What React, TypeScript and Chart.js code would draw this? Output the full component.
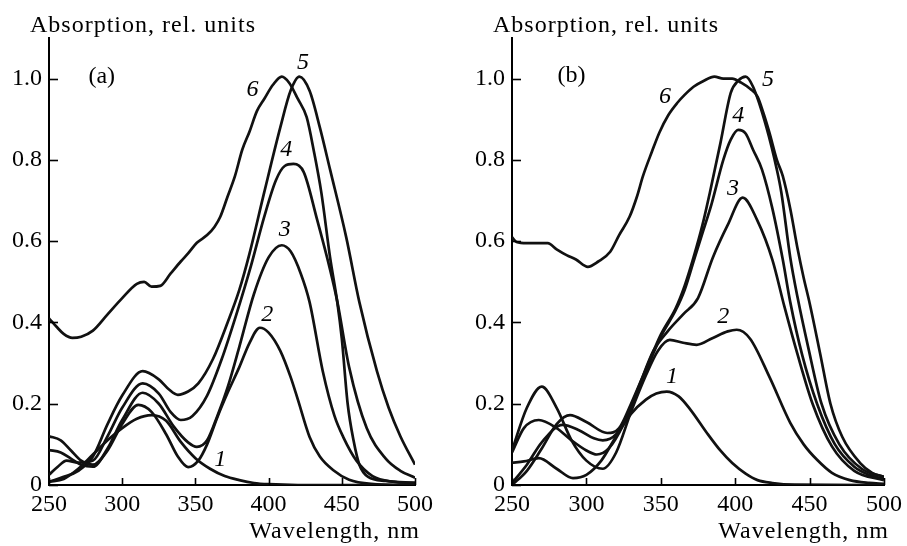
import React, { useEffect, useRef } from "react";
import { Chart, registerables } from "chart.js";
Chart.register(...registerables);

const FONT = "'Liberation Serif', 'Times New Roman', serif";

const xTicks = [250, 300, 350, 400, 450, 500];
const yTicks = [0, 0.2, 0.4, 0.6, 0.8, 1.0];
const yTitle = "Absorption, rel. units";
const xTitle = "Wavelength, nm";

// ---------- Panel (a) ----------
const a1Nm = [250, 260, 270, 280, 290, 300, 310, 320, 330, 340, 350, 360, 370, 380, 390, 400, 420, 500];
const a1Abs = [0.008, 0.015, 0.04, 0.075, 0.11, 0.14, 0.163, 0.172, 0.158, 0.106, 0.066, 0.04, 0.022, 0.012, 0.005, 0.002, 0, 0];

const a2Nm = [250, 258, 265, 272, 280, 290, 300, 311, 320, 330, 338, 345, 352, 358, 365, 372, 380, 387, 394, 400, 408, 415, 420, 428, 435, 444, 455, 470, 500];
const a2Abs = [0.12, 0.11, 0.085, 0.06, 0.05, 0.085, 0.15, 0.197, 0.18, 0.125, 0.07, 0.044, 0.06, 0.1, 0.167, 0.227, 0.29, 0.35, 0.387, 0.375, 0.33, 0.266, 0.21, 0.118, 0.07, 0.037, 0.013, 0.003, 0];

const a3Nm = [250, 258, 265, 272, 280, 290, 300, 314, 325, 335, 345, 351, 358, 365, 372, 380, 390, 400, 409, 415, 422, 428, 437, 445, 451, 460, 471, 485, 500];
const a3Abs = [0.086, 0.08, 0.065, 0.05, 0.045, 0.09, 0.16, 0.227, 0.2, 0.145, 0.105, 0.094, 0.11, 0.17, 0.24, 0.34, 0.47, 0.56, 0.59, 0.575, 0.52, 0.45, 0.28, 0.17, 0.118, 0.06, 0.022, 0.008, 0.005];

const a4Nm = [250, 256, 262, 270, 280, 290, 300, 314, 325, 333, 340, 348, 358, 368, 378, 388, 397, 405, 411, 417, 424, 433, 442, 447, 455, 467, 480, 490, 500];
const a4Abs = [0.025, 0.045, 0.06, 0.055, 0.06, 0.12, 0.19, 0.25, 0.225, 0.18, 0.16, 0.17, 0.22, 0.31, 0.42, 0.54, 0.66, 0.75, 0.785, 0.79, 0.77, 0.655, 0.53, 0.45, 0.29, 0.14, 0.065, 0.035, 0.018];

const a5Nm = [250, 260, 270, 280, 290, 300, 314, 325, 332, 338, 345, 352, 362, 372, 380, 387, 397, 408, 415, 421, 428, 435, 442, 453, 462, 474, 482, 490, 500];
const a5Abs = [0.008, 0.02, 0.035, 0.07, 0.15, 0.22, 0.28, 0.26, 0.235, 0.222, 0.23, 0.25, 0.31, 0.4, 0.48, 0.57, 0.72, 0.88, 0.97, 1.005, 0.97, 0.88, 0.776, 0.61, 0.45, 0.28, 0.19, 0.12, 0.05];

const a6Nm = [250, 255, 260, 266, 272, 280, 290, 300, 310, 315, 320, 326, 333, 340, 345, 351, 358, 363, 367, 372, 377, 382, 387, 392, 397, 403, 409, 414, 420, 426, 431, 436, 442, 447, 450, 454, 458, 462, 468, 480, 500];
const a6Abs = [0.41, 0.39, 0.372, 0.362, 0.365, 0.38, 0.42, 0.46, 0.495, 0.5, 0.488, 0.49, 0.52, 0.55, 0.57, 0.596, 0.615, 0.635, 0.66, 0.71, 0.76, 0.825, 0.87, 0.92, 0.95, 0.985, 1.005, 0.99, 0.95, 0.905, 0.82, 0.72, 0.56, 0.448, 0.36, 0.2, 0.11, 0.05, 0.02, 0.01, 0.005];

// ---------- Panel (b) ----------
const b1Nm = [250, 258, 268, 280, 291, 300, 310, 320, 330, 340, 347, 354, 362, 370, 381, 390, 398, 407, 415, 425, 440, 500];
const b1Abs = [0.055, 0.058, 0.066, 0.04, 0.017, 0.025, 0.06, 0.12, 0.175, 0.21, 0.225, 0.23, 0.218, 0.185, 0.128, 0.085, 0.054, 0.028, 0.012, 0.005, 0.001, 0];

const b2Nm = [250, 260, 270, 280, 290, 300, 311, 320, 330, 340, 348, 356, 365, 374, 385, 395, 401, 410, 423, 437, 446, 455, 465, 477, 490, 500];
const b2Abs = [0.085, 0.19, 0.242, 0.19, 0.11, 0.06, 0.04, 0.08, 0.18, 0.27, 0.33, 0.357, 0.35, 0.345, 0.362, 0.378, 0.382, 0.36, 0.266, 0.153, 0.1, 0.062, 0.03, 0.012, 0.005, 0.003];

const b3Nm = [250, 258, 268, 280, 290, 300, 307, 315, 325, 335, 345, 355, 365, 375, 385, 395, 405, 415, 425, 433, 442, 452, 465, 480, 500];
const b3Abs = [0.08, 0.14, 0.16, 0.14, 0.11, 0.085, 0.075, 0.09, 0.15, 0.24, 0.33, 0.38, 0.42, 0.46, 0.56, 0.64, 0.707, 0.65, 0.554, 0.44, 0.32, 0.2, 0.095, 0.035, 0.012];

const b4Nm = [250, 260, 270, 284, 295, 305, 311, 320, 330, 340, 350, 360, 366, 372, 378, 384, 392, 397, 402, 407, 412, 418, 425, 432, 437, 445, 455, 467, 480, 490, 500];
const b4Abs = [0.005, 0.05, 0.105, 0.148, 0.135, 0.115, 0.11, 0.125, 0.19, 0.28, 0.365, 0.43, 0.48, 0.55, 0.62, 0.69, 0.8, 0.85, 0.874, 0.865, 0.825, 0.776, 0.68, 0.554, 0.45, 0.32, 0.2, 0.1, 0.045, 0.025, 0.015];

const b5Nm = [250, 260, 270, 280, 289, 300, 314, 322, 330, 340, 350, 360, 366, 372, 378, 383, 390, 397, 402, 407, 412, 421, 428, 431, 437, 442, 449, 458, 470, 485, 500];
const b5Abs = [0.0, 0.035, 0.09, 0.15, 0.172, 0.155, 0.128, 0.14, 0.2, 0.285, 0.37, 0.435, 0.49, 0.56, 0.64, 0.72, 0.84, 0.965, 0.995, 1.005, 0.98, 0.88, 0.776, 0.72, 0.56, 0.46, 0.34, 0.2, 0.1, 0.04, 0.02];

const b6Nm = [250, 253, 260, 270, 274, 280, 287, 293, 301, 308, 316, 322, 329, 334, 338, 344, 349, 355, 361, 366, 372, 379, 386, 392, 398, 404, 410, 415, 419, 423, 428, 432, 437, 442, 446, 450, 457, 464, 472, 484, 492, 500];
const b6Abs = [0.61, 0.598, 0.595, 0.595, 0.595, 0.58, 0.565, 0.555, 0.537, 0.55, 0.574, 0.615, 0.66, 0.71, 0.76, 0.82, 0.867, 0.91, 0.94, 0.96, 0.98, 0.995, 1.005, 1.0, 1.0, 0.99, 0.975, 0.956, 0.915, 0.867, 0.8, 0.76, 0.68, 0.58, 0.51, 0.448, 0.325, 0.2, 0.118, 0.054, 0.03, 0.02];

// curve labels (anchor in data units)
const aLabelText = ["1", "2", "3", "4", "5", "6"];
const aLabelNm = [367, 399, 411, 412, 423.5, 389];
const aLabelAbs = [0.062, 0.419, 0.628, 0.825, 1.039, 0.973];
const bLabelText = ["1", "2", "3", "4", "5", "6"];
const bLabelNm = [357.5, 392, 398.5, 402, 422, 352.8];
const bLabelAbs = [0.267, 0.415, 0.73, 0.91, 0.998, 0.956];

const aTag = { text: "(a)", nm: 286, abs: 1.005 };
const bTag = { text: "(b)", nm: 290, abs: 1.007 };

const toPts = (nm: number[], ab: number[]) => nm.map((x, i) => ({ x, y: ab[i] }));

type PanelDef = {
  curves: [number[], number[]][];
  labelText: string[];
  labelNm: number[];
  labelAbs: number[];
  tag: { text: string; nm: number; abs: number };
  yAxisWidth: number;
  padRight: number;
  width: number;
};

const panelA: PanelDef = {
  curves: [[a1Nm, a1Abs], [a2Nm, a2Abs], [a3Nm, a3Abs], [a4Nm, a4Abs], [a5Nm, a5Abs], [a6Nm, a6Abs]],
  labelText: aLabelText, labelNm: aLabelNm, labelAbs: aLabelAbs, tag: aTag,
  yAxisWidth: 49, padRight: 38, width: 453,
};
const panelB: PanelDef = {
  curves: [[b1Nm, b1Abs], [b2Nm, b2Abs], [b3Nm, b3Abs], [b4Nm, b4Abs], [b5Nm, b5Abs], [b6Nm, b6Abs]],
  labelText: bLabelText, labelNm: bLabelNm, labelAbs: bLabelAbs, tag: bTag,
  yAxisWidth: 59, padRight: 23, width: 454,
};

function Panel({ def, left }: { def: PanelDef; left: number }) {
  const ref = useRef<HTMLCanvasElement | null>(null);
  useEffect(() => {
    if (!ref.current) return;
    const decor = {
      id: "decor",
      afterDraw(chart: any) {
        const { ctx, chartArea } = chart;
        const xs = chart.scales.x;
        const ys = chart.scales.y;
        ctx.save();
        ctx.strokeStyle = "#000";
        ctx.lineWidth = 1.6;
        xTicks.forEach((v) => {
          const px = Math.round(xs.getPixelForValue(v)) + 0.5;
          ctx.beginPath();
          ctx.moveTo(px, chartArea.bottom);
          ctx.lineTo(px, chartArea.bottom - 7);
          ctx.stroke();
        });
        yTicks.forEach((v) => {
          const py = Math.round(ys.getPixelForValue(v)) + 0.5;
          ctx.beginPath();
          ctx.moveTo(chartArea.left, py);
          ctx.lineTo(chartArea.left + 9, py);
          ctx.stroke();
        });
        ctx.fillStyle = "#000";
        ctx.textAlign = "center";
        ctx.textBaseline = "middle";
        ctx.font = `italic 24px ${FONT}`;
        def.labelText.forEach((t, i) => {
          ctx.fillText(t, xs.getPixelForValue(def.labelNm[i]), ys.getPixelForValue(def.labelAbs[i]));
        });
        ctx.font = `24px ${FONT}`;
        ctx.fillText(def.tag.text, xs.getPixelForValue(def.tag.nm), ys.getPixelForValue(def.tag.abs));
        (ctx as any).letterSpacing = "1px";
        ctx.textBaseline = "alphabetic";
        ctx.textAlign = "left";
        ctx.fillText(yTitle, chartArea.left - 19, 32);
        ctx.textAlign = "right";
        ctx.fillText(xTitle, xs.getPixelForValue(500) + 5, 538);
        ctx.restore();
      },
    };
    const chart = new Chart(ref.current, {
      type: "line",
      data: {
        datasets: def.curves.map(([nm, ab]) => ({
          data: toPts(nm, ab),
          borderColor: "#111",
          borderWidth: 2.7,
          pointRadius: 0,
          fill: false,
          cubicInterpolationMode: "monotone" as const,
        })),
      },
      options: {
        animation: false,
        responsive: false,
        events: [],
        layout: { padding: { top: 38, right: def.padRight, left: 0, bottom: 0 } },
        plugins: { legend: { display: false }, tooltip: { enabled: false }, title: { display: false } },
        scales: {
          x: {
            type: "linear",
            min: 250,
            max: 500,
            afterBuildTicks: (axis: any) => {
              axis.ticks = xTicks.map((v) => ({ value: v }));
            },
            afterFit: (scale: any) => {
              scale.height = 61;
            },
            grid: { display: false, drawTicks: false },
            border: { display: true, color: "#000", width: 2 },
            ticks: {
              color: "#000",
              font: { family: FONT, size: 24 },
              padding: 5,
              maxRotation: 0,
              autoSkip: false,
            },
          },
          y: {
            type: "linear",
            min: 0,
            max: 1.1,
            afterBuildTicks: (axis: any) => {
              axis.ticks = yTicks.map((v) => ({ value: v }));
            },
            afterFit: (scale: any) => {
              scale.width = def.yAxisWidth;
            },
            grid: { display: false, drawTicks: false },
            border: { display: true, color: "#000", width: 2 },
            ticks: {
              color: "#000",
              font: { family: FONT, size: 24 },
              padding: 7,
              callback: (v: any) => (Number(v) === 0 ? "0" : Number(v).toFixed(1)),
            },
          },
        },
      },
      plugins: [decor],
    });
    return () => chart.destroy();
  }, [def]);
  return (
    <canvas
      ref={ref}
      width={def.width}
      height={546}
      style={{ position: "absolute", left, top: 0, width: def.width, height: 546, display: "block" }}
    />
  );
}

export default function App() {
  return (
    <div style={{ position: "absolute", left: 0, top: 0, width: 907, height: 546, background: "#fff", overflow: "hidden" }}>
      <Panel def={panelA} left={0} />
      <Panel def={panelB} left={453} />
    </div>
  );
}
